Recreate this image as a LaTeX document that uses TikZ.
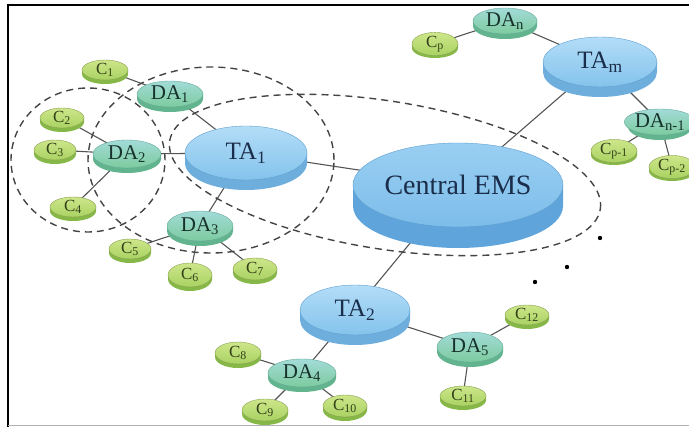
\documentclass[tikz,border=0pt]{standalone}
\usepackage{fontspec}
\setmainfont{Liberation Serif}
\usetikzlibrary{shapes.geometric,backgrounds}
\definecolor{taA}{HTML}{B3DDF7}\definecolor{taB}{HTML}{84C3EC}\definecolor{taS}{HTML}{6EAEDD}\definecolor{taL}{HTML}{5E9FD0}
\definecolor{emA}{HTML}{9ACFF2}\definecolor{emB}{HTML}{7DBDEA}\definecolor{emS}{HTML}{5FA5DB}
\definecolor{daA}{HTML}{A2DBD8}\definecolor{daB}{HTML}{7DCB9E}\definecolor{daS}{HTML}{62B48E}\definecolor{daL}{HTML}{66AA99}
\definecolor{ccA}{HTML}{CDE68A}\definecolor{ccB}{HTML}{A9D262}\definecolor{ccS}{HTML}{86B847}\definecolor{ccL}{HTML}{8AA050}
\definecolor{txtTA}{HTML}{1A2D4A}\definecolor{txtDA}{HTML}{17332C}\definecolor{txtC}{HTML}{33401A}
\definecolor{linkc}{HTML}{555555}\definecolor{ringc}{HTML}{444444}
\tikzset{
  tatop/.style={ellipse,draw=taL,line width=0.4pt,inner sep=0pt,top color=taA,bottom color=taB,text=txtTA,font=\fontsize{25}{27}\selectfont},
  taside/.style={fill=taS},
  emtop/.style={ellipse,draw=taL,line width=0.4pt,inner sep=0pt,top color=emA,bottom color=emB,text=txtTA,font=\fontsize{28}{30}\selectfont},
  emside/.style={fill=emS},
  datop/.style={ellipse,draw=daL,line width=0.4pt,inner sep=0pt,top color=daA,bottom color=daB,text=txtDA,font=\fontsize{21}{22}\selectfont},
  daside/.style={fill=daS},
  cctop/.style={ellipse,draw=ccL,line width=0.4pt,inner sep=0pt,top color=ccA,bottom color=ccB,text=txtC,font=\fontsize{17}{18}\selectfont},
  ccside/.style={fill=ccS},
  link/.style={draw=linkc,line width=1.1pt},
  ring/.style={draw=ringc,line width=1.4pt,dash pattern=on 7pt off 5pt},
}
\newcommand\mydisc[8]{%
  \fill[#7side] (#2-#4,-#3) -- (#2-#4,-#3-#6) arc[start angle=180,end angle=360,x radius=#4pt,y radius=#5pt] -- (#2+#4,-#3) -- cycle;
  \node[#7top,minimum width=2*#4pt,minimum height=2*#5pt] (#1) at (#2,-#3) {#8};
}
\begin{document}
\begin{tikzpicture}[x=1pt,y=1pt]
\useasboundingbox (0,0) rectangle (689,-427);
% frame
\draw[line width=1.5pt] (8,-427) -- (8,-5) -- (689,-5);
\draw[gray!60,line width=1pt] (8,-425.5) -- (689,-425.5);
% discs
\mydisc{dan}{505}{21}{32}{13}{5}{da}{DA\textsubscript{n}}
\mydisc{cp}{435}{44}{23}{10}{4}{cc}{C\textsubscript{p}}
\mydisc{tam}{600}{62}{57}{25}{10}{ta}{TA\textsubscript{m}}
\mydisc{danm}{660}{122}{32}{13}{5}{da}{DA\textsubscript{n-1}}
\mydisc{cpa}{614}{151}{23}{10}{4}{cc}{C\textsubscript{p-1}}
\mydisc{cpb}{672}{167}{23}{10}{4}{cc}{C\textsubscript{p-2}}
\mydisc{ems}{458}{185}{105}{42}{21}{em}{Central EMS}
\mydisc{taa}{246}{153}{61}{27}{10}{ta}{TA\textsubscript{1}}
\mydisc{daa}{170}{94}{33}{13}{5}{da}{DA\textsubscript{1}}
\mydisc{ca}{105}{70}{23}{10}{4}{cc}{C\textsubscript{1}}
\mydisc{dab}{127}{154}{34}{14}{5}{da}{DA\textsubscript{2}}
\mydisc{cb}{62}{118}{22}{10}{4}{cc}{C\textsubscript{2}}
\mydisc{cc}{55}{150}{21}{10}{4}{cc}{C\textsubscript{3}}
\mydisc{cd}{73}{207}{23}{10}{4}{cc}{C\textsubscript{4}}
\mydisc{dac}{200}{226}{33}{15}{5}{da}{DA\textsubscript{3}}
\mydisc{ce}{130}{249}{21}{10}{4}{cc}{C\textsubscript{5}}
\mydisc{cf}{190}{275}{22}{12}{4}{cc}{C\textsubscript{6}}
\mydisc{cg}{255}{269}{22}{11}{4}{cc}{C\textsubscript{7}}
\mydisc{tab}{355}{310}{55}{25}{10}{ta}{TA\textsubscript{2}}
\mydisc{dad}{302}{373}{34}{14}{5}{da}{DA\textsubscript{4}}
\mydisc{ch}{238}{353}{23}{11}{4}{cc}{C\textsubscript{8}}
\mydisc{ci}{265}{410}{23}{11}{4}{cc}{C\textsubscript{9}}
\mydisc{cj}{345}{406}{22}{11}{4}{cc}{C\textsubscript{10}}
\mydisc{dae}{470}{347}{33}{15}{5}{da}{DA\textsubscript{5}}
\mydisc{ck}{463}{396}{23}{10}{4}{cc}{C\textsubscript{11}}
\mydisc{cl}{527}{315}{22}{10}{4}{cc}{C\textsubscript{12}}
% connectors
\begin{pgfonlayer}{background}
\draw[link] (cp.center) -- (dan.center);
\draw[link] (dan.center) -- (tam.center);
\draw[link] (tam.center) -- (ems.center);
\draw[link] (tam.center) -- (danm.center);
\draw[link] (danm.center) -- (cpa.center);
\draw[link] (danm.center) -- (cpb.center);
\draw[link] (ca.center) -- (daa.center);
\draw[link] (daa.center) -- (taa.center);
\draw[link] (cb.center) -- (dab.center);
\draw[link] (cc.center) -- (dab.center);
\draw[link] (cd.center) -- (dab.center);
\draw[link] (dab.center) -- (taa.center);
\draw[link] (taa.center) -- (dac.center);
\draw[link] (dac.center) -- (ce.center);
\draw[link] (dac.center) -- (cf.center);
\draw[link] (dac.center) -- (cg.center);
\draw[link] (taa.center) -- (ems.center);
\draw[link] (ems.center) -- (tab.center);
\draw[link] (tab.center) -- (dad.center);
\draw[link] (tab.center) -- (dae.center);
\draw[link] (dad.center) -- (ch.center);
\draw[link] (dad.center) -- (ci.center);
\draw[link] (dad.center) -- (cj.center);
\draw[link] (dae.center) -- (ck.center);
\draw[link] (dae.center) -- (cl.center);
\end{pgfonlayer}
% dashed rings
\draw[ring] (88,-160) ellipse[x radius=77pt,y radius=72pt];
\draw[ring] (211,-160) ellipse[x radius=123pt,y radius=93pt];
\draw[ring,rotate around={-9:(385,-175)}] (385,-175) ellipse[x radius=218pt,y radius=74pt];
% dots
\fill (600,-238) circle[radius=2.2pt];
\fill (567,-267) circle[radius=2.2pt];
\fill (535,-282) circle[radius=2.2pt];
\end{tikzpicture}
\end{document}
